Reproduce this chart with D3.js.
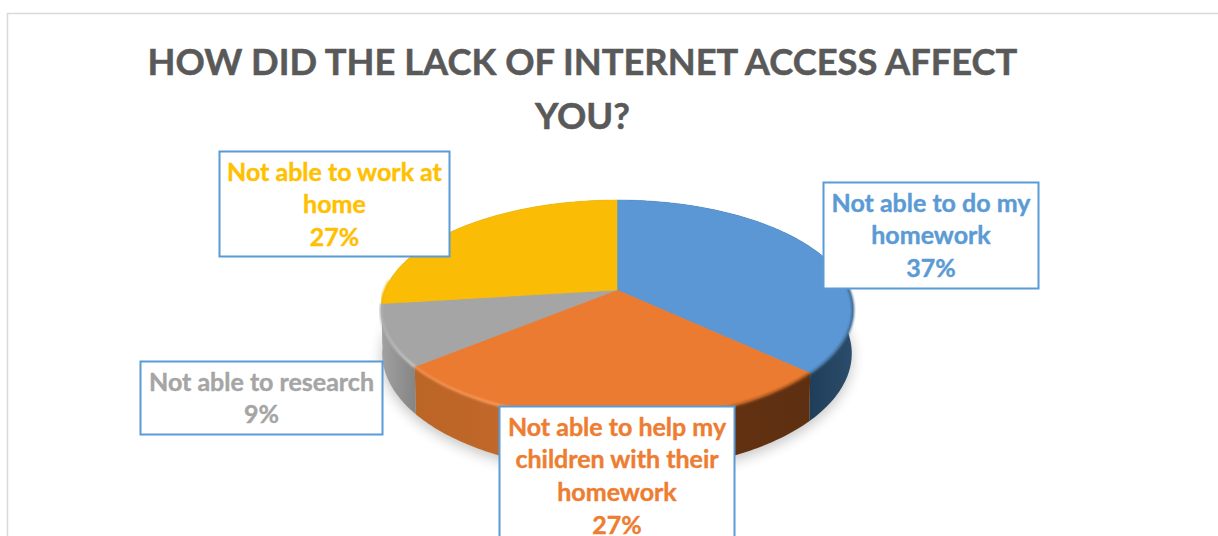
<!DOCTYPE html>
<html>
<head>
<meta charset="utf-8">
<script src="https://cdnjs.cloudflare.com/ajax/libs/d3/7.8.5/d3.min.js"></script>
<style>
  html, body { margin: 0; padding: 0; background: #fff; overflow: hidden; }
  svg { display: block; }
  text { font-family: Lato, "Open Sans", sans-serif; font-weight: 700; stroke-linejoin: round; }
</style>
</head>
<body>
<svg id="chart" width="1218" height="536"></svg>
<script>
// Survey results, in drawing order clockwise from twelve o'clock.
const categories = [
  "Not able to do my homework",
  "Not able to help my children with their homework",
  "Not able to research",
  "Not able to work at home"
];
const shares = [37, 27, 9, 27];
const sliceColors = ["#5B97D5", "#EB7B30", "#A5A5A5", "#FBBC05"];
const labelColors = ["#5B9BD5", "#ED7D31", "#A5A5A5", "#FFC000"];
const labelLines = [
  ["Not able to do my", "homework"],
  ["Not able to help my", "children with their", "homework"],
  ["Not able to research"],
  ["Not able to work at", "home"]
];
const titleLines = ["HOW DID THE LACK OF INTERNET ACCESS AFFECT", "YOU?"];

// Label box placement: x, y, width, height.
const boxes = [
  [823, 182, 215, 106],
  [499, 406, 235, 140],
  [140, 361, 242, 73],
  [219, 151, 230, 105]
];

const svg = d3.select("#chart");
const defs = svg.append("defs");

// Chart frame: runs off the right and bottom of the page
svg.append("path")
  .attr("d", "M7.5 536V13.5H1218")
  .attr("fill", "none").attr("stroke", "#d9d9d9").attr("stroke-width", 1.5);

// Title
svg.append("g").selectAll("text").data(titleLines).join("text")
  .attr("x", 582.5).attr("y", (d, i) => 75 + i * 54)
  .attr("text-anchor", "middle")
  .attr("font-size", 36.3).attr("fill", "#595959")
  .attr("stroke", "#595959").attr("stroke-width", 0.5)
  .text(d => d);

// Perspective projection of the tilted disc onto the page.
const apex = { x: 617, y: 290 };
const tilt = -0.182, spreadX = 232, spreadY = 106.4, wallDrop = 42, floorScale = 0.995;

function rim(theta, lowered) {
  const u = Math.sin(theta), v = -Math.cos(theta);
  const w = 1 + tilt * v;
  const x = apex.x + spreadX * u / w * (lowered ? floorScale : 1);
  const y = apex.y + spreadY * v / w + (lowered ? wallDrop / w : 0);
  return [x, y];
}

const pie = d3.pie().sort(null).value(d => d);
const arcs = pie(shares);
const line = d3.line();
const rad = deg => deg * Math.PI / 180;

// Samples an angular span at one-degree resolution.
function span(a0, a1) {
  const n = Math.max(2, Math.ceil(Math.abs(a1 - a0) / rad(1)));
  return d3.range(n + 1).map(i => a0 + (a1 - a0) * i / n);
}

// Gradient helper; coordinates are page coordinates.
function gradient(id, x1, x2, stops) {
  const g = defs.append("linearGradient")
    .attr("id", id).attr("gradientUnits", "userSpaceOnUse")
    .attr("x1", x1).attr("x2", x2).attr("y1", 0).attr("y2", 0);
  stops.forEach(([o, c]) => g.append("stop").attr("offset", o).attr("stop-color", c));
}

gradient("wall0", 810, 855, [[0, "#1f3e59"], [1, "#2c4d6c"]]);
gradient("wall1", 418, 815, [[0, "#bb6526"], [0.25, "#c2682a"], [0.55, "#7f4215"], [0.8, "#613112"], [1, "#5e2f10"]]);
gradient("wall2", 380, 420, [[0, "#a2a2a2"], [1, "#818181"]]);
gradient("wall3", 380, 420, [[0, "#a2a2a2"], [1, "#818181"]]);
gradient("bevel0", 810, 855, [[0, "#44749f"], [1, "#3d658c"]]);
gradient("bevel1", 418, 815, [[0, "#f08f4d"], [0.3, "#f9a268"], [0.6, "#d9702a"], [1, "#8d4a1c"]]);
gradient("bevel2", 380, 420, [[0, "#b0b0b0"], [1, "#cfcfcf"]]);
gradient("bevel3", 380, 400, [[0, "#f2b705"], [1, "#fbbc05"]]);

const blur = defs.append("filter").attr("id", "softShadow")
  .attr("x", "-10%").attr("y", "-10%").attr("width", "120%").attr("height", "130%");
blur.append("feGaussianBlur").attr("stdDeviation", 7);

const edgeBlur = defs.append("filter").attr("id", "softEdge")
  .attr("x", "-5%").attr("y", "-20%").attr("width", "110%").attr("height", "140%");
edgeBlur.append("feGaussianBlur").attr("stdDeviation", 0.8);

const pieLayer = svg.append("g");

// Soft drop shadow under the disc
pieLayer.append("path")
  .attr("d", line(span(0, 2 * Math.PI).map(t => {
    const [x, y] = rim(t, true);
    return [x, y + 4];
  })) + "Z")
  .attr("fill", "#000").attr("opacity", 0.24).attr("filter", "url(#softShadow)");

// Side walls: the band between the rim and the floor.
pieLayer.append("g").selectAll("path").data(arcs).join("path")
  .attr("d", d => {
    const ts = span(d.startAngle, d.endAngle);
    return line(ts.map(t => rim(t, false)).concat(ts.slice().reverse().map(t => rim(t, true)))) + "Z";
  })
  .attr("fill", d => `url(#wall${d.index})`);

// Top faces, each running from the apex around its rim segment.
pieLayer.append("g").selectAll("path").data(arcs).join("path")
  .attr("d", d => line([[apex.x, apex.y]].concat(span(d.startAngle, d.endAngle).map(t => rim(t, false)))) + "Z")
  .attr("fill", d => sliceColors[d.index])
  .attr("stroke", d => sliceColors[d.index]).attr("stroke-width", 0.5);

// Rounded bevel along the front of the rim only
pieLayer.append("g").selectAll("path").data(arcs).join("path")
  .attr("d", d => line(span(Math.max(d.startAngle, rad(82)), Math.min(d.endAngle, rad(275))).map(t => rim(t, false))))
  .attr("fill", "none")
  .attr("stroke", d => `url(#bevel${d.index})`)
  .attr("stroke-width", 2.5)
  .attr("filter", "url(#softEdge)");

// Boxed value labels
const label = svg.append("g").selectAll("g").data(arcs).join("g");

label.append("rect")
  .attr("x", d => boxes[d.index][0] + 0.5)
  .attr("y", d => boxes[d.index][1] + 0.5)
  .attr("width", d => boxes[d.index][2])
  .attr("height", d => boxes[d.index][3])
  .attr("fill", "#fff").attr("stroke", "#5B9BD5").attr("stroke-width", 2);

label.each(function (d) {
  const [bx, by, bw] = boxes[d.index];
  const lines = labelLines[d.index].concat(`${shares[d.index]}%`);
  d3.select(this).selectAll("text").data(lines).join("text")
    .attr("x", bx + bw / 2 + 0.5)
    .attr("y", (t, i) => by + 29.5 + i * 32.7)
    .attr("text-anchor", "middle")
    .attr("font-size", 25)
    .attr("fill", labelColors[d.index])
    .attr("stroke", labelColors[d.index]).attr("stroke-width", 0.4)
    .text(t => t);
});
</script>
</body>
</html>
